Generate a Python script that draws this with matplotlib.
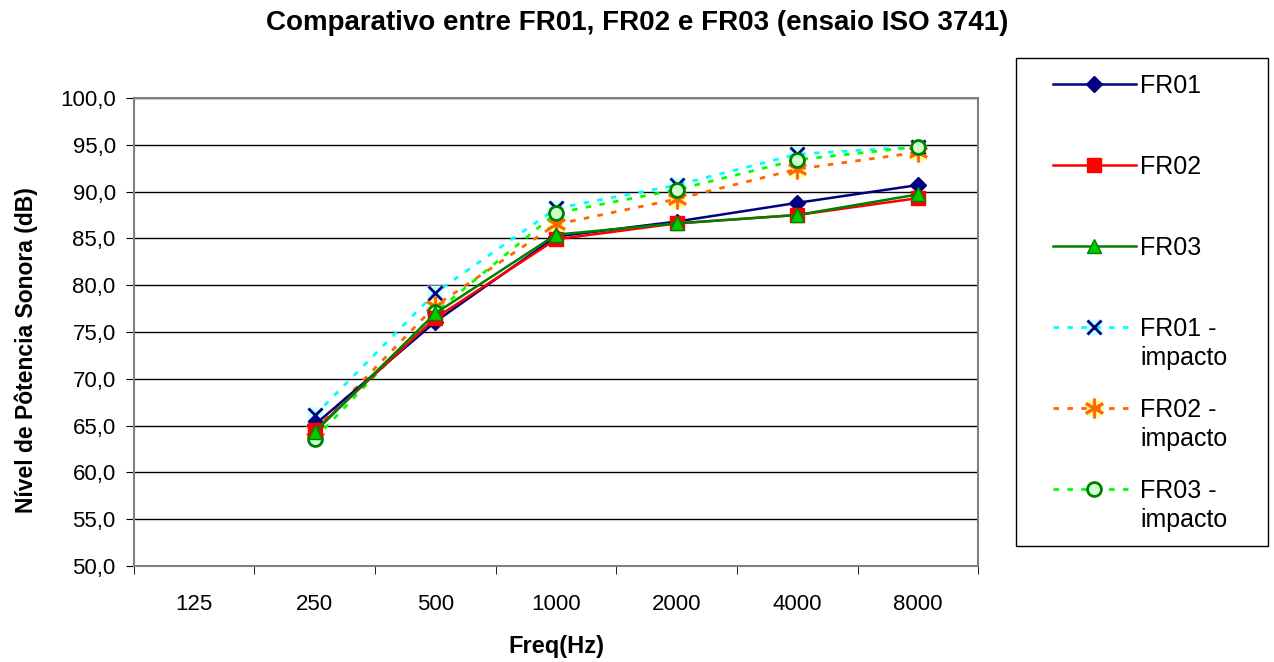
import matplotlib
matplotlib.use("Agg")
import matplotlib.pyplot as plt
import numpy as np
from matplotlib.ticker import FuncFormatter, FixedLocator
from matplotlib.legend_handler import HandlerTuple
from matplotlib.patches import Rectangle

plt.rcParams['font.family'] = ['Liberation Sans', 'DejaVu Sans']

# dados (125 Hz sem medicao)
freqs = ["125", "250", "500", "1000", "2000", "4000", "8000"]
fr01 = [np.nan, 65.1, 76.1, 85.2, 86.8, 88.8, 90.7]
fr02 = [np.nan, 64.5, 76.5, 84.9, 86.6, 87.5, 89.3]
fr03 = [np.nan, 64.3, 77.0, 85.4, 86.6, 87.5, 89.7]
fr01_imp = [np.nan, 66.1, 79.2, 88.2, 90.7, 94.0, 94.8]
fr02_imp = [np.nan, 64.5, 77.8, 86.5, 89.2, 92.4, 94.2]
fr03_imp = [np.nan, 63.6, 77.1, 87.7, 90.2, 93.4, 94.8]

x = np.arange(len(freqs))

fig = plt.figure(figsize=(12.74, 6.62), dpi=100)
ax = fig.add_axes([0.105, 0.145, 0.663, 0.707])

# series continuas
l1, = ax.plot(x, fr01, color='#000080', lw=1.8, marker='D', ms=8, mfc='#000080', mec='#000080', zorder=5)
l2, = ax.plot(x, fr02, color='#ff0000', lw=1.8, marker='s', ms=10, mfc='#ff0000', mec='#ff0000', zorder=5)
l3, = ax.plot(x, fr03, color='#008000', lw=1.8, marker='^', ms=10, mfc='#00cc00', mec='#008000', zorder=6)

# series de impacto (marcador com fundo claro, como no Excel)
b4, = ax.plot(x, fr01_imp, ls='none', marker='s', ms=11, mfc='#ccffff', mec='none', zorder=3)
l4, = ax.plot(x, fr01_imp, color='#00ffff', lw=2, ls=(0, (2, 3)), marker='x', ms=10, mew=2, mec='#000080', zorder=4)
b5, = ax.plot(x, fr02_imp, ls='none', marker='s', ms=11, mfc='#ffff99', mec='none', zorder=3)
l5, = ax.plot(x, fr02_imp, color='#ff6600', lw=2, ls=(0, (2, 3)), marker='$\u2217$', ms=14, mew=0.5, mec='#ff6600', mfc='#ff6600', zorder=4)
l6, = ax.plot(x, fr03_imp, color='#00ff00', lw=2, ls=(0, (2, 3)), marker='o', ms=10, mew=2, mfc='#ccffcc', mec='#008000', zorder=4)

handles = [l1, l2, l3, (b4, l4), (b5, l5), l6]
labels = ["FR01", "FR02", "FR03", "FR01 -", "FR02 -", "FR03 -"]

ax.set_xlim(-0.5, len(freqs) - 0.5)
ax.set_ylim(50, 100)
ax.set_yticks(np.arange(50, 100.1, 5))
ax.yaxis.set_major_formatter(FuncFormatter(lambda v, p: ("%.1f" % v).replace(".", ",")))
ax.set_xticks(x)
ax.set_xticklabels(freqs)
ax.xaxis.set_minor_locator(FixedLocator(np.arange(-0.5, len(freqs), 1)))
ax.tick_params(axis='x', which='major', length=0, pad=20, labelsize=16)
ax.tick_params(axis='x', which='minor', length=6, color='#000000', direction='out')
ax.tick_params(axis='y', length=6, direction='out', labelsize=16, pad=7)
ax.grid(axis='y', color='#000000', lw=1)
ax.set_axisbelow(True)
for s in ax.spines.values():
    s.set_color('#808080')
    s.set_linewidth(1.5)

ax.set_xlabel("Freq(Hz)", fontsize=17, fontweight='bold', va='center')
ax.xaxis.set_label_coords(0.5, -0.173)
ax.set_ylabel("Nível de Pôtencia Sonora (dB)", fontsize=16.5, fontweight='bold')
ax.yaxis.set_label_coords(-0.1136, 0.4615)
fig.suptitle("Comparativo entre FR01, FR02 e FR03 (ensaio ISO 3741)", fontsize=20, fontweight='bold', x=0.5, y=0.985)

# moldura da legenda
fig.patches.append(Rectangle((1016 / 1274, 1 - 546 / 662), 252 / 1274, 488 / 662,
                             transform=fig.transFigure, fill=True, facecolor='white',
                             edgecolor='#000000', lw=1, zorder=0))

leg = fig.legend(handles, labels, loc='upper left', bbox_to_anchor=(1053 / 1274, 1 - 74 / 662), fontsize=18,
                 handler_map={tuple: HandlerTuple(ndivide=1, pad=0)},
                 handlelength=3.3, labelspacing=2.28, borderpad=0, frameon=False,
                 handletextpad=0.2, borderaxespad=0)

# segunda linha dos rotulos de impacto
fig.canvas.draw()
r = fig.canvas.get_renderer()
for t in leg.get_texts()[3:]:
    bb = t.get_window_extent(r)
    fig.text(bb.x0 / 1274, (bb.y0 - 29) / 662, "impacto", fontsize=18, va='bottom', ha='left')

fig.savefig("out.png", dpi=100)
